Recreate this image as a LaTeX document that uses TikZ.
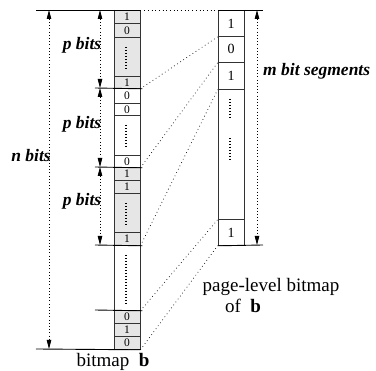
\documentclass[tikz,border=0pt]{standalone}
\usepackage{fontspec}
\setmainfont{Liberation Serif}
\usetikzlibrary{arrows.meta}
\definecolor{cellgray}{HTML}{E6E6E6}
\definecolor{edge}{HTML}{333333}
\begin{document}
\begin{tikzpicture}[x=1pt,y=-1pt,
  lcell/.style={draw=edge, line width=0.8pt, minimum width=26pt, inner sep=0pt, anchor=north, font=\fontsize{11.5}{11.5}\selectfont},
  rcell/.style={draw=edge, line width=0.8pt, minimum width=26pt, inner sep=0pt, anchor=north, font=\fontsize{14}{14}\selectfont},
  gcell/.style={fill=cellgray},
  celldots/.style={line width=1.3pt, dash pattern=on 1.3pt off 1.7pt},
  link/.style={line width=0.7pt, dash pattern=on 0.7pt off 3pt},
  rule/.style={line width=0.9pt, black},
  dim/.style={line width=0.8pt, dash pattern=on 0.8pt off 2.4pt, {Triangle[width=4.5pt,length=9pt]}-{Triangle[width=4.5pt,length=9pt]}},
  lbl/.style={font=\fontsize{17.5}{17.5}\selectfont\bfseries\itshape, inner sep=0pt},
  captext/.style={font=\fontsize{19}{19}\selectfont, inner sep=0pt, align=center}
]
\useasboundingbox (0,0) rectangle (376,371);
% left column
\node[lcell,gcell,minimum height=13pt] (L1) at (127,10) {1};
\node[lcell,gcell,minimum height=14pt] (L2) at (127,23) {0};
\node[lcell,gcell,minimum height=39pt] (L3) at (127,37) {};
\node[lcell,gcell,minimum height=12pt] (L4) at (127,76) {1};
\node[lcell,minimum height=15pt] (L5) at (127,88) {0};
\node[lcell,minimum height=12pt] (L6) at (127,103) {0};
\node[lcell,minimum height=40pt] (L7) at (127,115) {};
\node[lcell,minimum height=12pt] (L8) at (127,155) {0};
\node[lcell,gcell,minimum height=13pt] (L9) at (127,167) {1};
\node[lcell,gcell,minimum height=13pt] (L10) at (127,180) {1};
\node[lcell,gcell,minimum height=39pt] (L11) at (127,193) {};
\node[lcell,gcell,minimum height=13pt] (L12) at (127,232) {1};
\node[lcell,minimum height=65pt] (L13) at (127,245) {};
\node[lcell,gcell,minimum height=13pt] (L14) at (127,310) {0};
\node[lcell,gcell,minimum height=13pt] (L15) at (127,323) {1};
\node[lcell,gcell,minimum height=13pt] (L16) at (127,336) {0};
\draw[celldots] (126,47) -- (126,69);
\draw[celldots] (126,125) -- (126,147);
\draw[celldots] (126,203) -- (126,225);
\draw[celldots] (126,255) -- (126,304);
% right column
\node[rcell,minimum height=26pt] (R1) at (231,10) {1};
\node[rcell,minimum height=26pt] (R2) at (231,36) {0};
\node[rcell,minimum height=27pt] (R3) at (231,62) {1};
\node[rcell,minimum height=130pt] (R4) at (231,89) {};
\node[rcell,minimum height=26pt] (R5) at (231,219) {1};
\draw[celldots] (230,99) -- (230,119);
\draw[celldots] (230,138) -- (230,160);
% rules
\coordinate (nt) at (36,10);
\coordinate (nb) at (36,349);
\coordinate (t1) at (95,88);
\coordinate (t2) at (95,167);
\coordinate (t3) at (95,245);
\coordinate (t4) at (95,310);
\coordinate (mt) at (263,10);
\coordinate (mb) at (263,245);
\draw[rule] (nt) -- (L1.north east);
\draw[rule] (nb) -- (L16.south east);
\draw[rule] (t1) -- ([xshift=2pt]L4.south east);
\draw[rule] (t2) -- ([xshift=2pt]L8.south east);
\draw[rule] (t3) -- ([xshift=2pt]L12.south east);
\draw[rule] (t4) -- ([xshift=2pt]L13.south east);
\draw[rule] (R1.north west) -- (mt);
\draw[rule] (R5.south west) -- (mb);
% links
\draw[link] (L1.north east) -- (R1.north west);
\draw[link] (L4.south east) -- (R1.south west);
\draw[link] (L8.south east) -- (R2.south west);
\draw[link] (L12.south east) -- (R3.south west);
\draw[link] (L13.south east) -- (R4.south west);
\draw[link] (L16.south east) -- (R5.south west);
% dimension arrows
\coordinate (na) at (49,10);
\coordinate (nz) at (49,349);
\coordinate (p0) at (100,10);
\coordinate (p1) at (100,88);
\coordinate (p2) at (100,167);
\coordinate (p3) at (100,245);
\coordinate (ma) at (257,10);
\coordinate (mz) at (257,245);
\draw[dim] (na) -- (nz);
\draw[dim] (p0) -- (p1);
\draw[dim] (p1) -- (p2);
\draw[dim] (p2) -- (p3);
\draw[dim] (ma) -- (mz);
% labels
\node[lbl] (pb1) at (82,45) {p bits};
\node[lbl] (pb2) at (82,124) {p bits};
\node[lbl] (pb3) at (82,201) {p bits};
\node[lbl] (nb1) at (31,156) {n bits};
\node[lbl, anchor=west] (mb1) at (263,71) {m bit segments};
\node[captext] (pl) at (271,287) {page-level bitmap};
\node[captext] (ofb) at (243,306) {of\ \ \textbf{b}};
\node[captext] (bmb) at (113,362) {bitmap\ \ \textbf{b}};
\end{tikzpicture}
\end{document}
